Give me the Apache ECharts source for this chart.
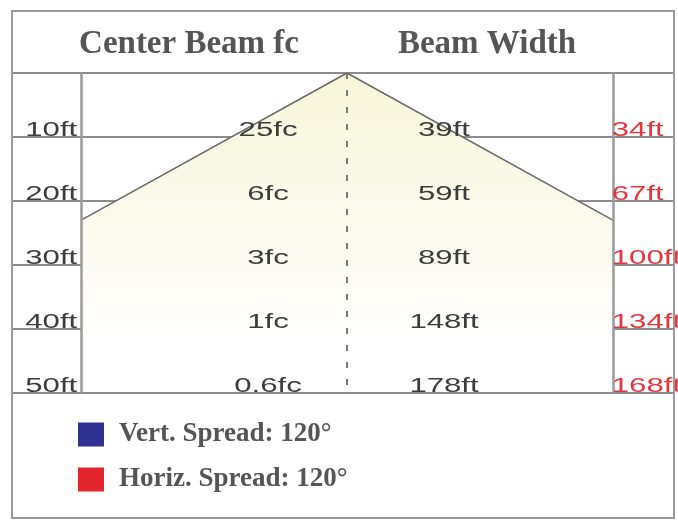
<!DOCTYPE html>
<html>
<head>
<meta charset="utf-8">
<script src="https://cdn.jsdelivr.net/npm/echarts@6/dist/echarts.min.js"></script>
<style>html,body{margin:0;padding:0;background:#fff}#c{width:678px;height:521px}</style>
</head>
<body>
<div id="c"></div>
<script>
// ---- data ----
const distances  = [10, 20, 30, 40, 50];
const rowLabels  = ['10ft', '20ft', '30ft', '40ft', '50ft'];
const centerFc   = ['25fc', '6fc', '3fc', '1fc', '0.6fc'];
const beamWidth  = ['39ft', '59ft', '89ft', '148ft', '178ft'];
const horizWidth = ['34ft', '67ft', '100ft', '134ft', '168ft'];
const beamEdgeX    = [-1, 0, 1];
const beamEdgeDist = [23, 0, 23];
const spillDist    = 42;
const legendNames  = ['Vert. Spread: 120°', 'Horiz. Spread: 120°'];
const headers      = ['Center Beam fc', 'Beam Width'];

// ---- layout ----
const COL = { row: -1.21, fc: -0.297, width: 0.365, horiz: 0.996 };
const TEXT_DY = 3.5;
const TEXT_SCALE = 1.52;

const chart = echarts.init(document.getElementById('c'));

function textSeries(name, labels, colX, align, color) {
  return {
    type: 'custom',
    name: name,
    z: 5,
    data: distances.map(d => [colX, d]),
    renderItem: function (params, api) {
      const p = api.coord([api.value(0), api.value(1)]);
      return {
        type: 'text',
        x: p[0], y: p[1] + TEXT_DY,
        scaleX: TEXT_SCALE,
        style: {
          text: labels[params.dataIndex],
          fill: color,
          font: '20.5px "Liberation Sans", Arial, sans-serif',
          align: align,
          verticalAlign: 'bottom'
        }
      };
    }
  };
}

const edgeData = beamEdgeX.map((x, i) => [x, beamEdgeDist[i]]);

const option = {
  animation: false,
  backgroundColor: '#fff',
  grid: { left: 12, right: 4, top: 73, bottom: 128 },
  xAxis: { type: 'value', min: -1.26, max: 1.23, show: false, splitLine: { show: false } },
  yAxis: {
    type: 'value', inverse: true, min: 0, max: 50, interval: 10,
    axisLine: { show: false }, axisTick: { show: false }, axisLabel: { show: false },
    splitLine: { show: true, lineStyle: { color: '#8c8c8c', width: 2 } }
  },
  legend: {
    orient: 'vertical', left: 73, top: 416, itemGap: 18,
    icon: 'rect', itemWidth: 26, itemHeight: 24, selectedMode: false,
    textStyle: { fontFamily: '"Liberation Serif", serif', fontWeight: 'bold', fontSize: 27, color: '#555', padding: [0, 0, 0, 10] },
    data: [
      { name: legendNames[0], itemStyle: { color: '#2e3192' } },
      { name: legendNames[1], itemStyle: { color: '#e3262d' } }
    ]
  },
  graphic: [
    { type: 'rect', shape: { x: 12, y: 11, width: 662, height: 507 }, style: { fill: 'none', stroke: '#9a9a9a', lineWidth: 2 }, z: 10 },
    { type: 'text', x: 189, y: 44, style: { text: headers[0], font: 'bold 33px "Liberation Serif", serif', fill: '#555', align: 'center', verticalAlign: 'middle' } },
    { type: 'text', x: 487, y: 44, style: { text: headers[1], font: 'bold 33px "Liberation Serif", serif', fill: '#555', align: 'center', verticalAlign: 'middle' } }
  ],
  series: [
    {
      type: 'custom',
      name: legendNames[0],
      z: 1,
      data: [0],
      renderItem: function (params, api) {
        const apex = api.coord([beamEdgeX[1], beamEdgeDist[1]]);
        const l = api.coord([beamEdgeX[0], beamEdgeDist[0]]);
        const r = api.coord([beamEdgeX[2], beamEdgeDist[2]]);
        const lb = api.coord([beamEdgeX[0], spillDist]);
        const rb = api.coord([beamEdgeX[2], spillDist]);
        return {
          type: 'polygon',
          shape: { points: [apex, l, lb, rb, r] },
          style: {
            fill: new echarts.graphic.LinearGradient(0, 0, 0, 1, [
              { offset: 0, color: '#f8f6d9' },
              { offset: 0.5, color: '#fbfaec' },
              { offset: 0.8, color: '#fdfcf6' },
              { offset: 1, color: '#ffffff' }
            ])
          }
        };
      }
    },
    {
      type: 'line',
      name: legendNames[0],
      data: edgeData,
      symbol: 'none',
      z: 3,
      lineStyle: { color: '#6a6a6a', width: 1.5 },
      markLine: {
        silent: true, symbol: 'none', label: { show: false },
        data: [
          { xAxis: -1, lineStyle: { color: '#9a9a9a', width: 2.5, type: 'solid' } },
          { xAxis: 1, lineStyle: { color: '#9a9a9a', width: 2.5, type: 'solid' } },
          { xAxis: 0, lineStyle: { color: '#7a7a7a', width: 2, type: [6, 11] } }
        ]
      }
    },
    textSeries('rows', rowLabels, COL.row, 'left', '#3c3c3c'),
    textSeries('fc', centerFc, COL.fc, 'center', '#3c3c3c'),
    textSeries(legendNames[0], beamWidth, COL.width, 'center', '#3c3c3c'),
    textSeries(legendNames[1], horizWidth, COL.horiz, 'left', '#e8353c')
  ]
};
chart.setOption(option);
</script>
</body>
</html>
